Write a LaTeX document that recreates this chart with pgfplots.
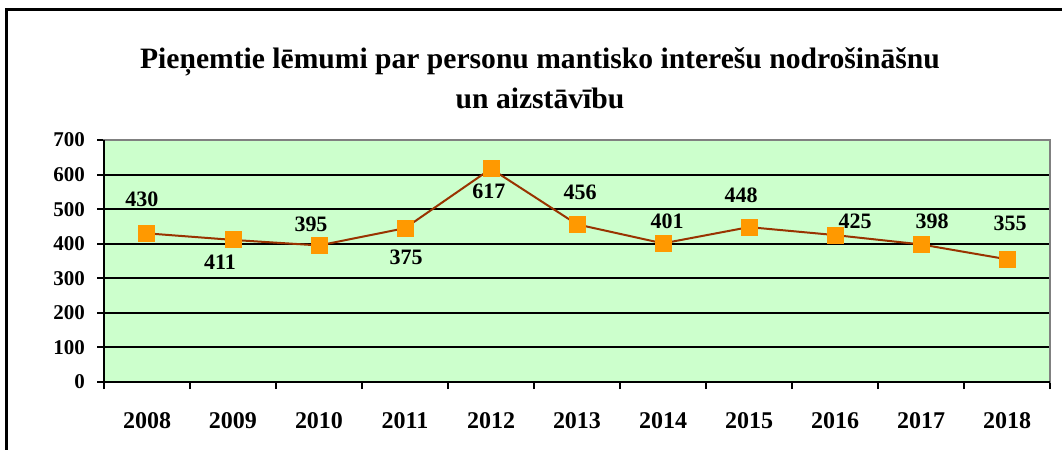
\documentclass[border=0pt]{standalone}
\usepackage{fontspec}
\setmainfont{Liberation Serif}
\usepackage{pgfplots}
\pgfplotsset{compat=1.18}
\usepackage{pgfplotstable}
\definecolor{plotbg}{HTML}{CCFFCC}
\definecolor{lineclr}{HTML}{993300}
\definecolor{markclr}{HTML}{FF9900}
\pgfplotstableread{
x y lab dx dy
0 430 430 -2.5 17
1 411 411 -6.5 -11
2 395 395 -4 10.5
3 445 375 0.5 -14.5
4 617 617 -1 -11.5
5 456 456 1.5 16
6 401 401 2 11
7 448 448 -4 16
8 425 425 10 7
9 398 398 5.5 11.5
10 355 355 1.5 18
}\datatable
\begin{document}
\begin{tikzpicture}
\useasboundingbox (-52pt,-34pt) rectangle (479pt,191pt);
\begin{scope}
\clip (-52pt,-34pt) rectangle (479pt,191pt);
\draw[line width=1.5pt] (-48.5pt,-60pt) -- (-48.5pt,186pt) -- (520pt,186pt);
\end{scope}
\node[font=\fontsize{14.8}{20}\selectfont\bfseries, align=center] at (218pt,152pt) {Pieņemtie lēmumi par personu mantisko interešu nodrošināšnu\\un aizstāvību};
\begin{axis}[
  at={(0,0)}, anchor=south west,
  width=473pt, height=121pt, scale only axis,
  xmin=-0.5, xmax=10.5, ymin=0, ymax=700,
  ytick={0,100,...,700},
  ymajorgrids,
  major grid style={black, line width=1pt},
  xtick={0,...,10},
  xticklabels={2008,2009,2010,2011,2012,2013,2014,2015,2016,2017,2018},
  minor xtick={-0.5,0.5,...,10.5},
  tick pos=left,
  tick align=outside,
  major tick length=3.5pt, minor tick length=3.5pt,
  tick style={black, line width=1pt},
  every major x tick/.style={draw=none},
  axis background/.style={fill=plotbg},
  axis line style={draw=gray, line width=1pt},
  /pgf/number format/assume math mode=true,
  y tick label style={font=\fontsize{10.5}{12}\selectfont\bfseries, xshift=-2.5pt},
  x tick label style={font=\fontsize{12}{14}\selectfont\bfseries, yshift=-8pt},
  clip=false,
]
\addplot[lineclr, line width=1pt, mark=square*, mark size=4pt,
  mark options={fill=markclr, draw=markclr, line width=0pt},
  point meta=explicit,
  visualization depends on={\thisrow{dx} \as \dx},
  visualization depends on={\thisrow{dy} \as \dy},
  nodes near coords={\pgfmathprintnumber{\pgfplotspointmeta}},
  nodes near coords style={font=\fontsize{11}{13}\selectfont\bfseries, black, anchor=center, xshift=\dx pt, yshift=\dy pt}]
  table[x=x, y=y, meta=lab]{\datatable};
\draw[black, line width=1.2pt] (rel axis cs:0,1) -- (rel axis cs:0,0) -- (rel axis cs:1,0);
\end{axis}
\end{tikzpicture}
\end{document}
